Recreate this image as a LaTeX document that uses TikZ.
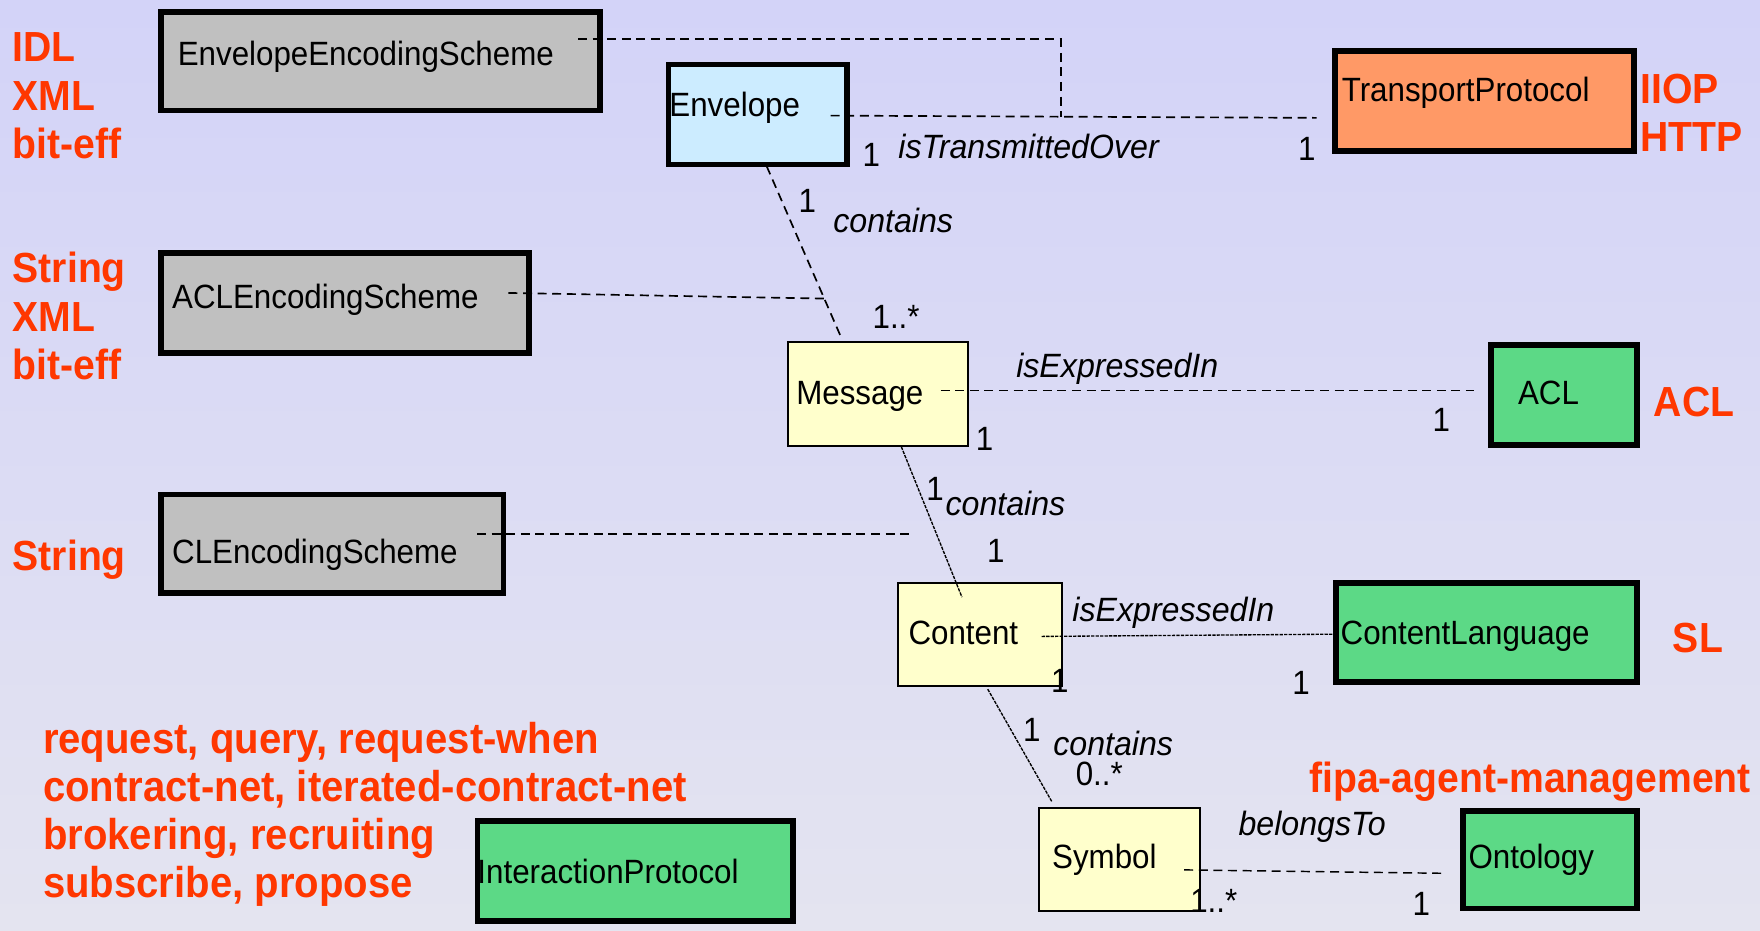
\documentclass[tikz,border=0pt]{standalone}
\usepackage{fontspec}
\setmainfont{Liberation Sans}
\newfontfamily\lab[FakeStretch=0.93]{Liberation Sans}
\newfontfamily\labit[FakeStretch=0.955]{Liberation Sans}
\usetikzlibrary{fit}
\definecolor{bgtop}{RGB}{211,211,248}
\definecolor{bgbot}{RGB}{228,228,240}
\definecolor{grayfill}{RGB}{192,192,192}
\definecolor{bluefill}{RGB}{204,236,255}
\definecolor{orangefill}{RGB}{255,153,102}
\definecolor{yellowfill}{RGB}{255,255,204}
\definecolor{greenfill}{RGB}{92,217,134}
\definecolor{redtxt}{RGB}{255,55,0}
\begin{document}
\begin{tikzpicture}[x=0.5pt,y=-0.5pt,
 thickbox/.style={draw=black, line width=2.5pt, inner sep=0pt},
 thinbox/.style={draw=black, line width=0.9pt, inner sep=0pt, fill=yellowfill},
 cls/.style={anchor=base west, inner sep=0pt, font=\lab\fontsize{15}{18}\selectfont},
 role/.style={anchor=base west, inner sep=0pt, font=\labit\itshape\fontsize{15}{18}\selectfont},
 mult/.style={anchor=base west, inner sep=0pt, font=\lab\fontsize{15}{18}\selectfont},
 note/.style={anchor=base west, inner sep=0pt, text=redtxt, font=\lab\bfseries\fontsize{18.75}{22}\selectfont},
 bignote/.style={note, font=\lab\bfseries\fontsize{19.2}{22}\selectfont},
 assoc/.style={draw=black, line width=0.75pt, dash pattern=on 4pt off 2.5pt},
 fineassoc/.style={draw=black, line width=0.6pt, dash pattern=on 1.5pt off 0.5pt}]
\useasboundingbox (0,0) rectangle (1568,829.4);
\shade[top color=bgtop, bottom color=bgbot] (0,0) rectangle (1568,829.4);

% boxes
\node[thickbox, fill=grayfill, fit={(143.5,10.5) (534.5,98.5)}] (ees) {};
\node[thickbox, fill=bluefill, fit={(595.5,57.5) (754.5,146.5)}] (env) {};
\node[thickbox, fill=orangefill, fit={(1189.5,45.5) (1455.5,134.5)}] (tp) {};
\node[thickbox, fill=grayfill, fit={(143.5,225.5) (471.5,314.5)}] (acles) {};
\node[thinbox, fit={(702,305) (862,397)}] (msg) {};
\node[thickbox, fill=greenfill, fit={(1328.5,307.5) (1458.5,396.5)}] (acl) {};
\node[thickbox, fill=grayfill, fit={(143.5,440.5) (448.5,528.5)}] (cles) {};
\node[thinbox, fit={(800,519) (946,611)}] (cnt) {};
\node[thickbox, fill=greenfill, fit={(1190.5,519.5) (1458.5,607.5)}] (cl) {};
\node[thinbox, fit={(926,720) (1069,812)}] (sym) {};
\node[thickbox, fill=greenfill, fit={(1303.5,722.5) (1458.5,809.5)}] (ont) {};
\node[thickbox, fill=greenfill, fit={(425.5,731.5) (706.5,820.5)}] (ip) {};

% box texts
\node[cls] (eesT) at (158,58) {EnvelopeEncodingScheme};
\node[cls] (envT) at (596,104) {Envelope};
\node[cls] (tpT) at (1195,90) {TransportProtocol};
\node[cls] (aclesT) at (153,275) {ACLEncodingScheme};
\node[cls] (msgT) at (709,360) {Message};
\node[cls] (aclT) at (1352,360) {ACL};
\node[cls] (clesT) at (153,502) {CLEncodingScheme};
\node[cls] (cntT) at (809,574) {Content};
\node[cls] (clT) at (1194,574) {ContentLanguage};
\node[cls] (symT) at (937,774) {Symbol};
\node[cls] (ontT) at (1308,774) {Ontology};
\node[cls] (ipT) at (425,787) {InteractionProtocol};

% connector end points
\coordinate (eesP) at (515,35);
\coordinate (j1) at (945,104);
\coordinate (envP) at (740,103);
\coordinate (tpP) at (1173,105);
\coordinate (envB) at (683,148);
\coordinate (msgTop) at (750,302);
\coordinate (aclesP) at (453,261);
\coordinate (j2) at (735,266);
\coordinate (msgP) at (838,348);
\coordinate (aclP) at (1313,348);
\coordinate (msgB) at (803,398);
\coordinate (cntTop) at (857,532);
\coordinate (clesP) at (425,476);
\coordinate (clesE) at (810,476);
\coordinate (cntP) at (928,567);
\coordinate (clP) at (1188,565);
\coordinate (cntB) at (880,614);
\coordinate (symTop) at (937,714);
\coordinate (symP) at (1055,775);
\coordinate (ontP) at (1284,778);

% connectors
\draw[assoc] (eesP) -| (j1);
\draw[assoc] (envP) -- (tpP);
\draw[assoc] (envB) -- (msgTop);
\draw[assoc] (aclesP) -- (j2);
\draw[assoc] (msgP) -- (aclP);
\draw[fineassoc] (msgB) -- (cntTop);
\draw[assoc] (clesP) -- (clesE);
\draw[fineassoc] (cntP) -- (clP);
\draw[fineassoc] (cntB) -- (symTop);
\draw[assoc, line width=0.65pt] (symP) -- (ontP);

% association labels
\node[mult] (m1) at (768,148) {1};
\node[role] (r1) at (800,141) {isTransmittedOver};
\node[mult] (m2) at (1156,143) {1};
\node[mult] (m3) at (711,189) {1};
\node[role] (r2) at (742,207) {contains};
\node[mult] (m4) at (777,293) {1..*};
\node[role] (r3) at (905,336) {isExpressedIn};
\node[mult] (m5) at (869,401) {1};
\node[mult] (m6) at (1276,384) {1};
\node[mult] (m7) at (825,446) {1};
\node[role] (r4) at (842,459) {contains};
\node[mult] (m8) at (879,501) {1};
\node[role] (r5) at (955,554) {isExpressedIn};
\node[mult] (m9) at (936,617) {1};
\node[mult] (m10) at (1151,619) {1};
\node[mult] (m11) at (911,661) {1};
\node[role] (r6) at (938,673) {contains};
\node[mult] (m12) at (958,700) {0..*};
\node[role] (r7) at (1103,744) {belongsTo};
\node[mult] (m13) at (1060,813) {1..*};
\node[mult] (m14) at (1258,816) {1};

% red notes
\node[note] (n1) at (11,55) {IDL};
\node[note] (n2) at (11,98) {XML};
\node[note] (n3) at (11,141) {bit-eff};
\node[note] (n4) at (11,252) {String};
\node[note] (n5) at (11,295) {XML};
\node[note] (n6) at (11,338) {bit-eff};
\node[note] (n7) at (11,508) {String};
\node[note] (n8) at (1461,92) {IIOP};
\node[note] (n9) at (1461,135) {HTTP};
\node[note] (n10) at (1473,371) {ACL};
\node[note] (n11) at (1490,581) {SL};
\node[note] (n12) at (1166,706) {fipa-agent-management};
\node[bignote] (n13) at (38,671) {request, query, request-when};
\node[bignote] (n14) at (38,714) {contract-net, iterated-contract-net};
\node[bignote] (n15) at (38,757) {brokering, recruiting};
\node[bignote] (n16) at (38,800) {subscribe, propose};
\end{tikzpicture}
\end{document}
